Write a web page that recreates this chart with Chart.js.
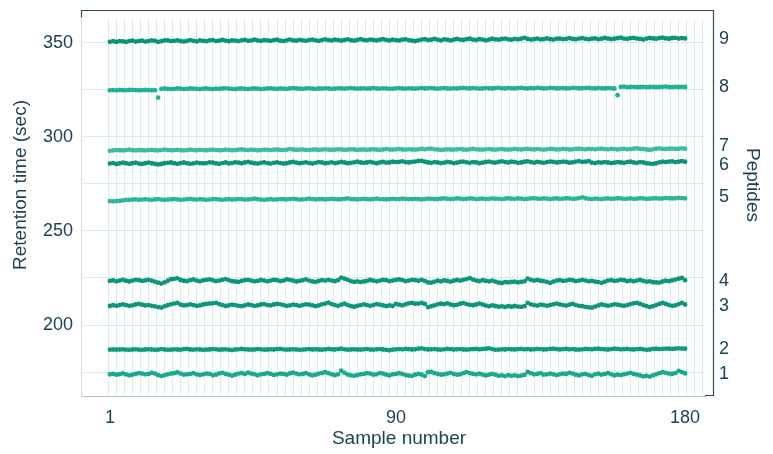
<!DOCTYPE html>
<html><head><meta charset="utf-8">
<script src="https://cdn.jsdelivr.net/npm/chart.js@4.4.1/dist/chart.umd.min.js"></script>
<style>html,body{margin:0;padding:0;background:#fff}#wrap{width:773px;height:454px}</style>
</head><body><div id="wrap"><canvas id="c" width="773" height="454"></canvas></div>
<script>
// ---- data ----
const samples = Array.from({length:180},(_,i)=>i+1);
const xTickLabels = [1, 90, 180];
const yTickLabels = [200, 250, 300, 350];
const yGridValues = [175, 200, 225, 250, 275, 300, 325, 350];
const peptides = ['1','2','3','4','5','6','7','8','9'];
const peptideLabelPos = [173.9, 187.2, 210.0, 223.3, 267.9, 284.9, 295.0, 326.5, 351.9];
const xTitle = 'Sample number';
const yTitle = 'Retention time (sec)';
const y2Title = 'Peptides';

const pep1 = [173.8,174.1,173.6,173.9,174.3,173.8,173.3,173.6,174.0,174.4,
174.2,173.8,174.0,174.6,174.2,173.4,172.9,173.3,173.8,174.2,
174.4,174.9,174.2,173.6,173.8,174.0,174.4,173.8,173.4,173.8,
174.2,174.0,173.3,173.6,174.3,174.6,174.0,173.6,173.1,173.6,
174.2,174.4,174.0,174.7,174.2,173.8,173.3,173.8,174.0,174.4,
174.0,173.4,173.8,174.2,174.0,173.6,174.3,174.7,174.2,173.8,
174.0,174.4,173.8,173.2,173.6,174.2,174.5,174.9,174.4,173.8,
173.4,173.8,175.7,174.6,173.7,173.3,173.0,173.4,173.8,174.0,
174.4,174.2,173.6,173.8,174.5,174.2,173.6,173.2,173.8,174.0,
174.4,174.0,173.4,173.1,173.0,173.6,174.0,173.6,172.9,174.9,
175.1,174.5,174.0,173.6,173.8,174.2,174.6,174.0,173.6,173.8,
174.4,175.0,174.5,174.0,173.8,174.2,173.6,173.2,173.6,174.0,
173.6,173.0,173.3,172.9,173.4,173.0,173.3,172.9,173.1,173.5,
175.1,174.4,173.8,174.0,174.4,173.6,173.8,174.2,173.8,173.4,
173.8,174.2,174.0,174.6,174.2,173.6,173.2,173.8,174.0,173.4,
173.0,173.8,174.2,173.6,174.0,174.4,173.8,173.2,173.6,173.4,
173.8,174.2,174.6,174.0,173.6,173.2,172.7,173.0,172.6,173.3,
173.8,174.4,174.9,174.6,174.2,174.0,174.5,175.6,175.0,174.3];

const pep2 = [186.9,187.0,186.9,187.0,187.1,186.9,186.8,187.0,187.1,186.9,
186.8,187.0,187.1,187.0,186.8,186.9,187.2,187.0,186.8,186.9,
187.1,187.0,186.9,187.2,187.3,187.0,186.9,187.1,187.0,186.8,
186.9,187.0,187.2,187.1,186.9,187.0,187.1,186.9,186.7,187.0,
187.1,187.3,187.1,187.0,186.9,187.0,187.2,187.1,186.9,187.0,
187.1,187.0,187.2,187.3,187.1,186.9,187.0,187.1,187.0,186.8,
186.9,187.1,187.2,187.0,187.1,187.0,186.9,187.1,187.3,187.1,
187.0,187.2,187.4,187.1,186.9,187.0,187.1,187.0,186.9,187.1,
187.2,187.0,186.9,187.1,187.2,187.0,186.8,186.6,186.9,187.1,
187.2,187.1,187.3,187.2,187.0,187.1,187.4,187.6,187.2,187.0,
187.1,187.2,187.0,186.9,187.1,187.3,187.2,187.0,187.1,187.2,
187.0,186.9,187.1,187.2,187.3,187.1,187.2,187.4,187.6,187.2,
186.8,186.9,187.1,187.0,187.2,187.1,187.0,187.2,187.3,187.1,
187.2,187.0,187.1,187.3,187.2,187.0,187.1,187.3,187.4,187.2,
187.0,187.2,187.3,187.1,187.2,187.0,186.9,187.1,187.3,187.2,
187.1,187.3,187.4,187.2,187.1,187.0,187.2,187.4,187.3,187.1,
187.2,187.3,187.1,187.0,187.2,187.3,187.1,186.8,187.0,187.3,
187.4,187.2,187.3,187.5,187.4,187.3,187.5,187.6,187.5,187.4];

const pep3 = [210.1,210.5,210.2,210.6,211.0,210.6,210.2,210.4,210.9,211.2,
210.8,210.4,210.6,210.2,209.9,209.5,209.2,209.9,210.5,211.0,
211.4,211.7,210.8,210.4,210.6,211.0,210.6,210.2,210.4,210.9,
211.2,211.4,211.5,211.8,211.1,210.6,210.1,210.4,210.8,210.6,
210.2,210.0,210.4,210.9,210.6,210.2,210.4,210.9,211.1,210.6,
210.4,210.9,211.2,211.0,210.6,210.2,210.4,210.8,210.6,210.2,
210.6,211.0,210.8,210.4,210.0,210.4,211.0,211.4,211.9,211.1,
210.6,210.2,210.8,211.3,210.6,210.0,209.7,210.2,210.6,211.0,
210.6,210.2,210.6,211.1,210.8,210.4,210.0,210.4,210.1,211.2,
210.8,210.4,211.0,211.5,211.7,211.3,211.4,211.7,211.2,209.5,
209.9,210.4,211.0,211.3,211.1,211.5,210.9,210.5,210.7,211.3,
211.6,211.1,210.7,210.5,210.9,211.4,210.9,210.3,209.9,210.4,
210.1,209.7,209.9,209.6,210.0,209.7,210.1,209.8,209.6,210.0,
211.8,211.0,210.6,210.3,210.8,210.6,210.2,210.6,211.0,211.4,
211.0,210.6,210.3,210.8,211.2,210.6,210.2,210.0,209.6,209.4,
209.2,209.8,210.4,210.9,210.6,210.2,210.6,211.0,210.8,210.4,
210.2,210.6,211.1,211.5,211.7,211.2,210.6,210.0,209.5,210.0,
210.6,211.2,211.7,211.2,210.6,210.2,210.4,211.1,211.8,210.9];

const pep4 = [223.4,223.7,223.2,223.6,224.0,223.5,223.1,223.6,224.0,223.8,
223.4,223.7,224.0,223.6,223.0,222.5,222.0,222.6,223.5,224.3,
224.5,224.8,223.9,223.5,223.3,223.8,224.2,223.6,223.2,223.7,
224.0,224.2,223.8,223.3,223.6,224.0,224.4,223.8,223.3,223.1,
222.9,223.4,223.8,224.0,223.6,223.2,223.4,223.9,223.6,223.2,
223.6,224.0,223.8,223.3,223.6,224.2,224.0,223.6,223.1,223.4,
223.8,224.2,223.6,223.1,222.9,223.4,223.8,223.6,224.0,223.6,
223.3,223.8,225.2,224.6,224.0,223.3,222.9,223.2,222.8,223.1,
223.4,223.9,223.6,223.2,223.6,224.0,223.8,223.3,223.6,224.0,
224.2,223.8,223.3,223.6,224.0,223.8,223.5,224.0,223.4,222.6,
222.5,223.0,223.5,223.2,223.7,223.4,223.0,223.5,223.9,223.6,
224.0,224.4,224.9,224.1,223.6,223.3,223.8,223.4,223.2,223.6,
223.0,222.5,222.3,222.8,222.6,222.9,223.0,222.6,222.9,223.2,
224.6,224.0,223.6,223.9,223.5,223.3,222.9,222.4,223.0,223.6,
223.8,223.4,223.6,224.0,223.8,223.3,223.6,224.0,223.6,223.2,
223.4,223.0,222.8,222.4,223.0,223.6,223.8,223.4,223.6,224.0,
223.8,223.3,223.6,223.2,223.6,224.0,223.4,223.0,223.2,222.7,
222.6,222.5,223.1,223.5,223.3,223.7,224.1,224.6,225.0,223.8];

const pep5 = [265.8,265.7,265.8,265.9,266.2,266.5,266.4,266.6,266.7,266.5,
266.6,266.8,266.6,266.5,266.7,266.8,266.6,266.4,266.6,266.7,
266.9,266.7,266.5,266.6,266.8,267.0,266.7,266.6,266.8,266.7,
266.5,266.6,266.8,266.9,266.7,266.5,266.7,266.8,266.6,266.7,
266.9,266.8,266.6,266.7,266.9,267.1,266.8,266.6,266.5,266.7,
266.8,266.6,266.7,266.9,266.8,266.7,266.9,267.0,266.8,266.6,
266.7,266.9,267.1,266.9,266.7,266.8,266.9,266.7,266.8,267.0,
266.9,266.7,266.8,267.0,267.2,266.9,266.8,266.7,266.9,267.0,
266.8,266.7,266.9,267.1,266.9,266.8,266.7,266.9,267.0,266.8,
266.9,267.1,267.0,266.8,266.9,267.0,266.8,266.7,266.9,267.1,
267.0,266.8,266.9,267.1,267.2,267.0,266.9,267.0,267.2,267.1,
266.9,267.0,267.2,267.1,266.9,267.0,267.1,266.9,267.0,267.2,
267.1,267.0,266.9,267.1,267.3,267.1,267.0,267.2,267.1,266.9,
267.0,267.2,267.3,267.1,267.0,267.2,267.1,266.9,267.1,267.2,
267.0,267.1,267.3,267.2,267.0,267.1,267.4,267.8,267.3,267.0,
266.9,267.1,267.0,266.9,267.1,267.2,267.0,267.1,267.3,267.2,
267.0,267.1,267.2,267.0,267.1,267.3,267.2,267.0,267.1,267.2,
267.3,267.1,267.2,267.4,267.3,267.2,267.3,267.5,267.4,267.2];

const pep6 = [285.7,286.0,285.5,285.8,286.2,285.9,285.6,285.9,286.2,285.7,
285.5,285.9,286.2,285.9,285.6,285.3,285.5,285.9,286.1,286.3,
285.9,285.6,286.0,286.3,285.9,285.6,285.8,286.2,286.0,285.8,
286.0,286.4,286.2,285.8,285.6,286.0,286.3,285.8,286.0,286.4,
286.2,285.9,286.3,286.6,286.2,285.9,285.7,286.1,286.4,286.0,
285.7,286.1,286.4,286.0,285.7,285.9,286.3,286.6,286.2,285.9,
286.1,286.4,286.0,285.7,286.1,286.5,286.3,285.9,286.1,286.4,
286.0,286.2,286.6,286.3,285.9,286.1,286.4,286.7,286.3,286.1,
286.3,286.6,286.2,285.9,286.3,286.6,286.2,286.3,286.7,286.5,
286.6,286.9,286.5,286.3,286.6,286.8,287.1,287.2,286.7,286.3,
286.1,286.5,286.3,286.0,286.2,286.6,286.4,286.0,286.2,286.6,
286.8,286.4,286.1,286.5,286.3,285.9,286.2,286.6,286.8,286.4,
286.2,286.6,286.9,286.5,286.3,286.7,286.5,286.1,286.3,286.7,
286.9,286.5,286.2,286.6,286.4,286.1,286.5,286.8,286.6,286.3,
286.5,286.8,286.6,286.2,286.4,286.8,287.0,286.6,286.7,287.0,
286.2,286.0,286.4,286.2,286.5,286.3,286.0,286.2,286.5,286.3,
286.1,286.5,286.7,286.3,286.1,286.5,286.3,285.9,285.7,285.6,
285.9,286.4,286.7,286.5,286.8,286.9,286.5,286.7,287.0,286.7];

const pep7 = [292.5,292.7,292.9,292.8,292.7,292.9,293.1,292.8,292.7,292.9,
292.8,292.7,292.9,293.0,292.8,292.7,292.9,293.1,292.9,292.8,
292.9,293.0,292.8,292.7,292.9,293.1,292.9,292.8,293.0,292.9,
292.8,293.0,293.1,292.9,292.8,292.9,293.1,293.0,292.8,292.9,
293.1,293.2,293.0,292.9,293.1,293.0,292.8,292.9,293.1,293.0,
292.9,293.1,293.2,293.0,292.9,293.1,293.4,293.2,293.0,293.1,
293.2,293.0,292.9,293.1,293.2,293.0,293.1,293.3,293.1,293.0,
293.1,293.3,293.2,293.0,293.1,293.3,293.2,293.0,293.1,293.2,
293.0,293.2,293.3,293.1,293.0,293.2,293.4,293.2,293.1,293.3,
293.4,293.2,293.1,293.3,293.2,293.1,293.3,293.6,293.3,293.5,
293.7,293.3,293.2,293.0,293.1,293.3,293.2,293.1,293.3,293.4,
293.2,293.1,293.3,293.5,293.3,293.2,293.1,293.3,293.4,293.2,
293.1,293.3,293.4,293.2,293.1,293.3,293.5,293.3,293.2,293.4,
293.5,293.3,293.2,293.4,293.3,293.1,293.3,293.5,293.4,293.2,
293.3,293.5,293.4,293.2,293.3,293.5,293.6,293.4,293.3,293.5,
293.4,293.3,293.5,293.6,293.4,293.3,293.5,293.4,293.2,293.4,
293.5,293.3,293.4,293.6,293.8,293.5,293.4,293.2,293.0,293.3,
293.6,293.8,293.5,293.4,293.6,293.7,293.5,293.6,293.8,293.6];

const pep8 = [324.6,324.7,324.6,324.8,324.7,324.6,324.8,324.9,324.7,324.6,
324.7,324.8,324.7,324.6,324.7,320.8,325.4,325.6,325.4,325.3,
325.4,325.6,325.5,325.3,325.4,325.6,325.5,325.4,325.3,325.5,
325.6,325.4,325.3,325.5,325.4,325.6,325.7,325.5,325.4,325.3,
325.5,325.6,325.4,325.3,325.5,325.6,325.5,325.3,325.4,325.6,
325.7,325.5,325.4,325.6,325.5,325.4,325.6,325.8,325.6,325.5,
325.4,325.6,325.7,325.5,325.4,325.6,325.5,325.7,325.6,325.4,
325.5,325.7,325.6,325.5,325.7,325.8,325.6,325.5,325.6,325.7,
325.5,325.6,325.8,325.6,325.5,325.7,325.6,325.4,325.5,325.7,
325.8,325.6,325.5,325.7,325.6,325.5,325.7,325.8,325.6,325.7,
325.8,325.6,325.5,325.7,325.8,325.6,325.5,325.7,325.6,325.8,
325.9,325.7,325.6,325.8,325.7,325.5,325.6,325.8,325.7,325.6,
325.8,325.9,325.7,325.6,325.8,325.7,325.6,325.8,325.9,325.7,
325.6,325.8,325.7,325.9,325.8,325.6,325.7,325.9,325.8,325.6,
325.7,325.8,325.6,325.7,325.9,325.8,325.6,325.7,325.8,325.9,
325.7,325.6,325.8,325.7,325.6,325.8,325.7,325.6,322.0,326.5,
326.6,326.3,326.4,326.5,326.3,326.4,326.5,326.3,326.4,326.5,
326.3,326.4,326.5,326.6,326.4,326.3,326.5,326.4,326.5,326.4];

const pep9 = [350.4,350.7,350.3,350.8,350.6,350.3,350.8,351.0,350.5,350.8,
351.0,350.5,350.7,351.1,350.9,350.4,350.7,351.1,351.2,350.8,
350.9,351.2,350.7,350.5,350.9,351.3,350.9,350.6,351.1,350.9,
350.7,351.1,351.3,350.8,351.0,351.4,351.0,350.7,351.2,351.0,
350.8,351.2,351.4,350.9,351.1,351.5,351.1,350.9,351.3,351.1,
350.9,351.3,351.5,351.0,350.8,351.2,351.6,351.2,351.0,351.4,
351.2,350.9,351.3,351.6,351.2,350.9,351.3,351.7,351.3,351.1,
351.5,351.3,351.0,351.4,351.7,351.3,351.0,351.4,351.8,351.4,
351.2,351.6,351.4,351.1,351.5,351.8,351.4,351.1,351.5,351.3,
351.1,351.5,351.7,351.3,351.0,350.7,351.2,351.6,351.8,351.4,
351.5,351.9,351.5,351.2,351.7,351.5,351.1,351.5,351.9,351.6,
351.4,351.8,352.0,351.6,351.4,351.8,351.6,351.2,351.6,352.0,
351.7,351.5,351.9,352.1,351.7,351.5,351.9,351.7,352.0,352.5,
351.9,351.6,351.8,352.1,351.7,351.8,352.2,351.8,351.6,352.0,
352.1,351.8,351.9,352.3,351.9,351.7,352.1,352.3,351.9,351.7,
352.0,352.2,351.8,352.0,352.4,352.1,351.8,352.0,352.3,352.6,
352.1,351.9,352.3,352.5,352.1,351.9,351.6,352.1,352.4,352.2,
352.0,352.4,352.6,352.2,352.0,352.4,352.5,352.1,352.3,352.2];

const seriesValues = [pep1, pep2, pep3, pep4, pep5, pep6, pep7, pep8, pep9];
const seriesColors = ['#1aa98c','#109a7e','#0f967a','#0f967a','#2db59b','#0c9479','#3bbda4','#1fb297','#0b9478'];

// ---- styling ----
const TXT = '#1d4351';
const FONT = "'Liberation Sans', Arial, Helvetica, sans-serif";
const GRID = 'rgba(150,212,195,0.38)';
const XMIN = -8, XMAX = 186.2, YMIN = 162.3, YMAX = 362.5;

const datasets = seriesValues.map((vals, k) => ({
  label: 'Peptide ' + peptides[k],
  data: vals.map((v, i) => ({x: samples[i], y: v})),
  backgroundColor: seriesColors[k],
  borderColor: seriesColors[k],
  pointRadius: 2.4,
  pointHoverRadius: 2.4,
  pointBorderWidth: 0,
  showLine: false
}));

const framePlugin = {
  id: 'frame',
  afterDraw(chart) {
    const {ctx, chartArea: a} = chart;
    const L = Math.round(a.left) + 0.5, T = Math.round(a.top - 9) + 0.5;
    const R = Math.round(a.right + 8) + 0.5, B = Math.round(a.bottom) - 0.5;
    ctx.save();
    ctx.strokeStyle = '#2b4c57';
    ctx.lineWidth = 1.2;
    ctx.beginPath();
    ctx.moveTo(L, T + 7);
    ctx.lineTo(L, T);
    ctx.lineTo(R, T);
    ctx.lineTo(R, B);
    ctx.lineTo(Math.round(a.right), B);
    ctx.stroke();
    // axis titles
    ctx.fillStyle = TXT;
    ctx.font = '19px ' + FONT;
    ctx.textAlign = 'center';
    ctx.textBaseline = 'middle';
    ctx.fillText(xTitle, 399, 439);
    ctx.save();
    ctx.translate(21, 185);
    ctx.rotate(-Math.PI / 2);
    ctx.fillText(yTitle, 0, 0);
    ctx.restore();
    ctx.save();
    ctx.translate(752, 185);
    ctx.rotate(Math.PI / 2);
    ctx.fillText(y2Title, 0, 0);
    ctx.restore();
    ctx.restore();
  }
};

new Chart(document.getElementById('c'), {
  type: 'scatter',
  data: {datasets},
  plugins: [framePlugin],
  options: {
    responsive: false,
    animation: false,
    devicePixelRatio: 1,
    layout: {padding: {top: 19, left: 0, right: 0, bottom: 0}},
    plugins: {legend: {display: false}, tooltip: {enabled: false}},
    scales: {
      x: {
        type: 'linear', position: 'bottom', min: XMIN, max: XMAX,
        afterBuildTicks: s => { s.ticks = xTickLabels.map(v => ({value: v})); },
        ticks: {color: TXT, font: {size: 18, family: FONT}, padding: 11, autoSkip: false, maxRotation: 0,
                callback: v => String(v)},
        grid: {display: false, drawTicks: false},
        border: {display: true, color: '#b7c5c9', width: 1},
        afterFit: s => { s.height = 58; s.paddingLeft = 0; s.paddingRight = 0; }
      },
      xg: {
        type: 'linear', position: 'bottom', min: XMIN, max: XMAX,
        afterBuildTicks: s => { const t = []; for (let v = 0.5; v <= XMAX; v += 2.5) t.push({value: v}); s.ticks = t; },
        ticks: {display: false},
        grid: {color: GRID, drawTicks: false, lineWidth: 1},
        border: {display: false},
        afterFit: s => { s.height = 0; s.paddingLeft = 0; s.paddingRight = 0; }
      },
      y: {
        position: 'left', min: YMIN, max: YMAX,
        afterBuildTicks: s => { s.ticks = yGridValues.map(v => ({value: v})); },
        ticks: {color: TXT, font: {size: 18, family: FONT}, padding: 8, autoSkip: false,
                callback: v => yTickLabels.includes(v) ? String(v) : ''},
        grid: {color: GRID, drawTicks: false, lineWidth: 1},
        border: {display: true, color: '#d3dcde', width: 1},
        afterFit: s => { s.width = 81; s.paddingTop = 0; s.paddingBottom = 0; }
      },
      y2: {
        position: 'right', min: YMIN, max: YMAX,
        afterBuildTicks: s => { s.ticks = peptideLabelPos.map(v => ({value: v})); },
        ticks: {color: TXT, font: {size: 18, family: FONT}, padding: 14, autoSkip: false,
                callback: (v, i) => peptides[i]},
        grid: {display: false, drawTicks: false},
        border: {display: false},
        afterFit: s => { s.width = 68; s.paddingTop = 0; s.paddingBottom = 0; }
      }
    }
  }
});
</script>
</body></html>
